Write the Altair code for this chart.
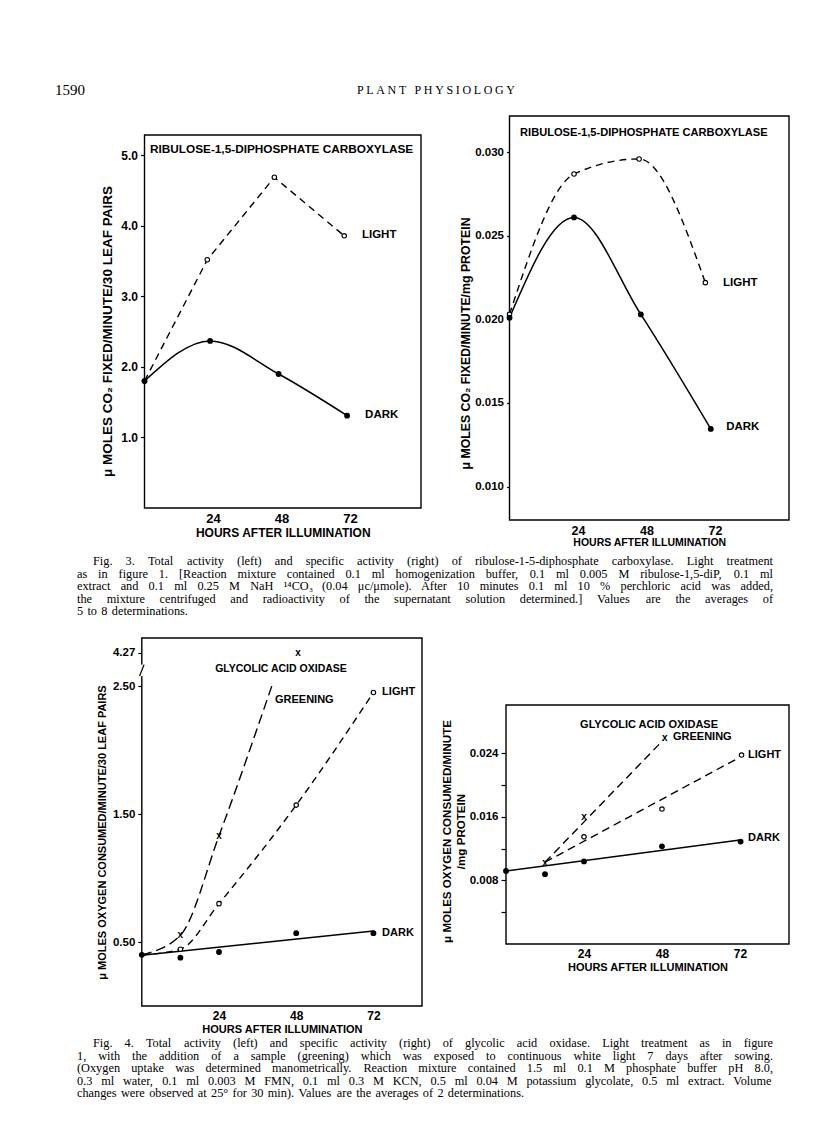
import altair as alt
import pandas as pd

# ---------------- data ----------------
# Fig. 3 left: total activity, RuDP carboxylase (umoles CO2 / min / 30 leaf pairs)
f3l_dark_hours = [0, 23, 47, 71]
f3l_dark = [1.80, 2.37, 1.90, 1.31]
f3l_light_hours = [0, 22, 45.5, 70]
f3l_light = [1.80, 3.52, 4.69, 3.86]

# Fig. 3 right: specific activity (umoles CO2 / min / mg protein)
f3r_dark_hours = [0, 22.6, 46, 70.5]
f3r_dark = [0.0201, 0.0261, 0.0203, 0.01345]
f3r_light_hours = [0, 22.6, 45.4, 68.6]
f3r_light = [0.0203, 0.0287, 0.0296, 0.0222]

# Fig. 4 left: total activity, glycolic acid oxidase (umoles O2 / min / 30 leaf pairs)
f4l_dark_hours = [0, 12, 24, 48, 72]
f4l_dark = [0.40, 0.378, 0.422, 0.569, 0.569]
f4l_dark_fit_hours = [0, 72]
f4l_dark_fit = [0.396, 0.586]
f4l_light_hours = [12, 24, 48, 72]
f4l_light = [0.444, 0.80, 1.57, 2.45]
f4l_light_curve_hours = [0, 12, 24, 48, 72]
f4l_light_curve = [0.40, 0.444, 0.80, 1.57, 2.45]
f4l_green_hours = [12, 24, 48.6]
f4l_green = [0.553, 1.33, 4.27]
f4l_green_curve_hours = [0, 12, 24, 40.4]
f4l_green_curve = [0.40, 0.553, 1.33, 2.50]
f4l_ticks = [0.5, 1.5, 2.5, 4.27]

# Fig. 4 right: specific activity (umoles O2 / min / mg protein)
f4r_dark_hours = [0, 12, 24, 48, 72.2]
f4r_dark = [0.0092, 0.0088, 0.0104, 0.0123, 0.0129]
f4r_dark_fit_hours = [0, 72]
f4r_dark_fit = [0.0092, 0.0131]
f4r_light_hours = [24, 48, 72.5]
f4r_light = [0.0135, 0.0170, 0.0238]
f4r_light_fit_hours = [12, 71.4]
f4r_light_fit = [0.0103, 0.0234]
f4r_green_hours = [12, 24, 48.9]
f4r_green = [0.0102, 0.0160, 0.0260]
f4r_green_fit_hours = [12, 48.4]
f4r_green_fit = [0.0103, 0.0257]

hour_ticks = [24, 48, 72]

header_page = "1590"
header_journal = "PLANT PHYSIOLOGY"
caption3 = [
    "Fig. 3.  Total activity (left) and specific activity (right) of ribulose-1-5-diphosphate carboxylase.  Light treatment",
    "as in figure 1.  [Reaction mixture contained 0.1 ml homogenization buffer, 0.1 ml 0.005 M ribulose-1,5-diP, 0.1 ml",
    "extract and 0.1 ml 0.25 M NaH \u00b9\u2074CO\u2083 (0.04 \u03bcc/\u03bcmole).  After 10 minutes 0.1 ml 10 % perchloric acid was added,",
    "the mixture centrifuged and radioactivity of the supernatant solution determined.]  Values are the averages of",
    "5 to 8 determinations.",
]
caption4 = [
    "Fig. 4.  Total activity (left) and specific activity (right) of glycolic acid oxidase.  Light treatment as in figure",
    "1, with the addition of a sample (greening) which was exposed to continuous white light 7 days after sowing.",
    "(Oxygen uptake was determined manometrically.  Reaction mixture contained 1.5 ml 0.1 M phosphate buffer pH 8.0,",
    "0.3 ml water, 0.1 ml 0.003 M FMN, 0.1 ml 0.3 M KCN, 0.5 ml 0.04 M potassium glycolate, 0.5 ml extract.  Volume",
    "changes were observed at 25\u00b0 for 30 min).  Values are the averages of 2 determinations.",
]

# ---------------- layout / style ----------------
W, H = 800, 1127
SANS = "Liberation Sans"
SERIF = "Liberation Serif"
BREAK_K = 0.1463  # compression of the broken axis above 2.50 (Fig. 4 left)


def compress(v):
    return 2.5 + (v - 2.5) * BREAK_K if v > 2.5 else v


class Panel:
    def __init__(self, xdom, xrng, ydom, yrng, xa, ya):
        self.xdom, self.ydom = xdom, ydom
        self.xs = alt.Scale(domain=xdom, range=xrng, nice=False, zero=False)
        self.ys = alt.Scale(domain=ydom, range=yrng, nice=False, zero=False)
        self.xa, self.ya = xa, ya

    def X(self, f):
        return alt.X(f, scale=self.xs, axis=self.xa)

    def Y(self, f):
        return alt.Y(f, scale=self.ys, axis=self.ya)

    def line(self, h, v, dash=None, interp="linear", width=1.4):
        kw = dict(color="black", strokeWidth=width, interpolate=interp)
        if dash:
            kw["strokeDash"] = dash
        return alt.Chart(pd.DataFrame({"h": h, "v": v})).mark_line(**kw).encode(
            x=self.X("h:Q"), y=self.Y("v:Q"))

    def dark(self, h, v, size=34):
        return alt.Chart(pd.DataFrame({"h": h, "v": v})).mark_circle(
            size=size, color="black", opacity=1).encode(x=self.X("h:Q"), y=self.Y("v:Q"))

    def light(self, h, v, size=20):
        return alt.Chart(pd.DataFrame({"h": h, "v": v})).mark_point(
            shape="circle", size=size, filled=True, fill="white", stroke="black",
            strokeWidth=1.1, opacity=1).encode(x=self.X("h:Q"), y=self.Y("v:Q"))

    def green(self, h, v, transform=None):
        c = alt.Chart(pd.DataFrame({"h": h, "v": v}))
        yf = "v:Q"
        if transform:
            c = c.transform_calculate(vd=transform)
            yf = "vd:Q"
        return c.mark_text(text="x", fontSize=10, font=SANS, fontWeight="bold",
                           baseline="middle", color="black").encode(
            x=self.X("h:Q"), y=self.Y(yf))

    def label(self, txt, h, v, size=11):
        return alt.Chart(pd.DataFrame({"t": [txt], "h": [h], "v": [v]})).mark_text(
            align="left", baseline="middle", font=SANS, fontSize=size,
            fontWeight="bold", color="black").encode(
            x=self.X("h:Q"), y=self.Y("v:Q"), text="t:N")

    def frame(self):
        df = pd.DataFrame({"h": [self.xdom[0]], "h2": [self.xdom[1]],
                           "v": [self.ydom[0]], "v2": [self.ydom[1]]})
        return alt.Chart(df).mark_rect(fill="transparent", stroke="black", strokeWidth=1.4).encode(
            x=self.X("h:Q"), x2="h2:Q", y=self.Y("v:Q"), y2="v2:Q")


def xaxis(bottom, lsize, tsize, tpad=2):
    return alt.Axis(orient="bottom", offset=bottom - H, values=hour_ticks, grid=False,
                    domain=False, ticks=False, labelPadding=4, labelFontSize=lsize,
                    labelFlush=False, labelOverlap=False,
                    title="HOURS AFTER ILLUMINATION", titleFontSize=tsize, titlePadding=tpad)


def yaxis(left, values, title, lsize, tsize, tpad, title_y, fmt=None, expr=None, tick=4):
    kw = dict(orient="left", offset=-left, values=values, grid=False, domain=False,
              tickSize=tick, labelPadding=3, labelFontSize=lsize, labelFlush=False,
              labelOverlap=False, title=title, titleFontSize=tsize, titlePadding=tpad,
              titleY=title_y - 8)
    if fmt:
        kw["format"] = fmt
    if expr:
        kw["labelExpr"] = expr
    return alt.Axis(**kw)


# ---------- Panel 1 : Fig. 3 left ----------
P1 = Panel([0, 96.9], [136.5, 413], [0, 5.29], [500, 127],
           xaxis(500, 13, 12),
           yaxis(136.5, [1, 2, 3, 4, 5], "\u03bc MOLES CO\u2082 FIXED/MINUTE/30 LEAF PAIRS",
                 12, 13.5, 6, 331, fmt=".1f"))
p1 = alt.layer(
    P1.frame(),
    P1.line(f3l_light_hours, f3l_light, dash=[7, 5]),
    P1.line(f3l_dark_hours, f3l_dark, interp="monotone", width=1.5),
    P1.light(f3l_light_hours, f3l_light),
    P1.dark(f3l_dark_hours, f3l_dark),
    P1.label("RIBULOSE-1,5-DIPHOSPHATE CARBOXYLASE", 1.9, 5.09, size=11.8),
    P1.label("LIGHT", 76.2, 3.87, size=11.5),
    P1.label("DARK", 77.3, 1.32, size=11.5),
)

# ---------- Panel 2 : Fig. 3 right ----------
P2 = Panel([0, 97.9], [501.5, 781], [0.008, 0.03217], [512, 108],
           xaxis(512, 12.5, 10.5, tpad=1),
           yaxis(501.5, [0.010, 0.015, 0.020, 0.025, 0.030],
                 "\u03bc MOLES CO\u2082 FIXED/MINUTE/mg PROTEIN", 11.5, 12.3, 2, 343,
                 fmt=".3f", tick=3))
p2 = alt.layer(
    P2.frame(),
    P2.line(f3r_light_hours, f3r_light, dash=[7, 5], interp="monotone"),
    P2.line(f3r_dark_hours, f3r_dark, interp="monotone", width=1.5),
    P2.light(f3r_light_hours, f3r_light),
    P2.dark(f3r_dark_hours, f3r_dark),
    P2.label("RIBULOSE-1,5-DIPHOSPHATE CARBOXYLASE", 3.7, 0.03115, size=11.1),
    P2.label("LIGHT", 74.8, 0.02218, size=11.5),
    P2.label("DARK", 75.9, 0.01357, size=11.5),
)

# ---------- Panel 3 : Fig. 4 left (broken axis) ----------
tick3 = [compress(v) for v in f4l_ticks]
expr3 = f"format(datum.value > 2.51 ? 2.5 + (datum.value - 2.5) / {BREAK_K} : datum.value, '.2f')"
P3 = Panel([0, 87.1], [133.8, 414], [0, 2.876], [998, 630],
           xaxis(998, 12, 11),
           yaxis(133.8, tick3, "\u03bc MOLES OXYGEN CONSUMED/MINUTE/30 LEAF PAIRS",
                 11.5, 11, 5, 832, expr=expr3))
brk = alt.Chart(pd.DataFrame({"h": [-0.7], "h2": [0.7], "v": [2.578], "v2": [2.668]}))
p3 = alt.layer(
    P3.frame(),
    brk.mark_rect(color="white").encode(x=P3.X("h:Q"), x2="h2:Q", y=P3.Y("v:Q"), y2="v2:Q"),
    brk.mark_rule(color="black", strokeWidth=1.3).encode(
        x=P3.X("h:Q"), x2="h2:Q", y=P3.Y("v:Q"), y2="v2:Q"),
    P3.line(f4l_green_curve_hours, f4l_green_curve, dash=[10, 5], interp="monotone"),
    P3.line(f4l_light_curve_hours, f4l_light_curve, dash=[7, 5], interp="monotone"),
    P3.line(f4l_dark_fit_hours, f4l_dark_fit, width=1.5),
    P3.light(f4l_light_hours, f4l_light),
    P3.dark(f4l_dark_hours, f4l_dark),
    P3.green(f4l_green_hours, f4l_green,
             transform=f"datum.v > 2.5 ? 2.5 + (datum.v - 2.5) * {BREAK_K} : datum.v"),
    P3.label("GLYCOLIC ACID OXIDASE", 22.8, 2.634, size=10.5),
    P3.label("GREENING", 41.4, 2.391, size=11),
    P3.label("LIGHT", 74.7, 2.454, size=11),
    P3.label("DARK", 74.7, 0.570, size=11),
)

# ---------- Panel 4 : Fig. 4 right ----------
expr4 = "(round(datum.value * 1000) % 8 == 0) ? format(datum.value, '.3f') : ''"
P4 = Panel([0, 87.1], [498, 781], [0, 0.03011], [936, 697],
           xaxis(936, 12, 11),
           yaxis(498, [0.004, 0.008, 0.012, 0.016, 0.020, 0.024],
                 ["\u03bc MOLES OXYGEN CONSUMED/MINUTE", "/mg PROTEIN"], 11.5, 11.6, 3, 831,
                 expr=expr4, tick=5))
p4 = alt.layer(
    P4.frame(),
    P4.line(f4r_green_fit_hours, f4r_green_fit, dash=[8, 5]),
    P4.line(f4r_light_fit_hours, f4r_light_fit, dash=[8, 5]),
    P4.line(f4r_dark_fit_hours, f4r_dark_fit, width=1.5),
    P4.light(f4r_light_hours, f4r_light),
    P4.dark(f4r_dark_hours, f4r_dark),
    P4.green(f4r_green_hours, f4r_green),
    P4.label("GLYCOLIC ACID OXIDASE", 22.8, 0.02759, size=11),
    P4.label("GREENING", 51.4, 0.02608, size=11),
    P4.label("LIGHT", 74.5, 0.02381, size=11),
    P4.label("DARK", 74.5, 0.01335, size=11),
)

# ---------- page text (justified like the printed page) ----------
# Times / Liberation Serif advance widths (per 1000 em) used to justify lines
TW = {" ": 250, "!": 333, "%": 833, "(": 333, ")": 333, ",": 250, "-": 333, ".": 250,
      "/": 278, ":": 278, ";": 278, "[": 333, "]": 333, "\u00b0": 400, "\u00b9": 300,
      "\u2074": 300, "\u2083": 300, "\u03bc": 500}
TW.update({d: 500 for d in "0123456789"})
TW.update(dict(zip("ABCDEFGHIJKLMNOPQRSTUVWXYZ",
                   [722, 667, 667, 722, 611, 556, 722, 722, 333, 389, 722, 611, 889,
                    722, 722, 556, 722, 667, 556, 611, 722, 722, 944, 722, 722, 611])))
TW.update(dict(zip("abcdefghijklmnopqrstuvwxyz",
                   [444, 500, 444, 500, 444, 333, 500, 500, 278, 278, 500, 278, 778,
                    500, 500, 500, 500, 333, 389, 278, 500, 500, 722, 500, 500, 444])))


def tw(s, size):
    return sum(TW.get(ch, 500) for ch in s) * size / 1000.0


def justified(lines, x_first, x_left, x_right, y0, dy, size):
    rows = []
    for i, ln in enumerate(lines):
        words = ln.split()
        x = x_first if i == 0 else x_left
        widths = [tw(w, size) for w in words]
        if i < len(lines) - 1 and len(words) > 1:
            gap = (x_right - x - sum(widths)) / (len(words) - 1)
        else:
            gap = tw(" ", size) * 1.4
        for w, wd in zip(words, widths):
            rows.append({"w": w, "x": x - 8, "y": y0 + i * dy - 8})
            x += wd + gap
    return rows


def spaced(txt, x0, x1, y, size):
    chars = list(txt)
    widths = [tw(c, size) for c in chars]
    extra = (x1 - x0 - sum(widths)) / (len(chars) - 1)
    rows, x = [], x0
    for c, wd in zip(chars, widths):
        if c != " ":
            rows.append({"w": c, "x": x - 8, "y": y - 8})
        x += wd + extra
    return rows


def text_layer(rows, size):
    return alt.Chart(pd.DataFrame(rows)).mark_text(
        align="left", baseline="middle", font=SERIF, fontSize=size, color="black").encode(
        x=alt.X("x:Q", scale=None, axis=None), y=alt.Y("y:Q", scale=None, axis=None),
        text="w:N")


CAP = 12.3
texts = [
    text_layer([{"w": header_page, "x": 55 - 8, "y": 90 - 8}], 15),
    text_layer(spaced(header_journal, 357, 515, 90, 12), 12),
    text_layer(justified(caption3, 93, 77, 773, 561, 12.5, CAP), CAP),
    text_layer(justified(caption4, 93, 77, 773, 1043, 12.5, CAP), CAP),
]

chart = alt.layer(p1, p2, p3, p4, *texts).resolve_scale(
    x="independent", y="independent").resolve_axis(
    x="independent", y="independent").properties(
    width=W, height=H, padding=0, autosize=alt.AutoSizeParams(type="none"),
    background="white").configure_view(strokeWidth=0).configure_axis(
    labelFont=SANS, titleFont=SANS, labelFontWeight="bold", titleFontWeight="bold",
    labelColor="black", titleColor="black", tickColor="black", tickWidth=1.2,
    domainColor="black")

chart.save("out.html", embed_options={"renderer": "svg", "actions": False})
